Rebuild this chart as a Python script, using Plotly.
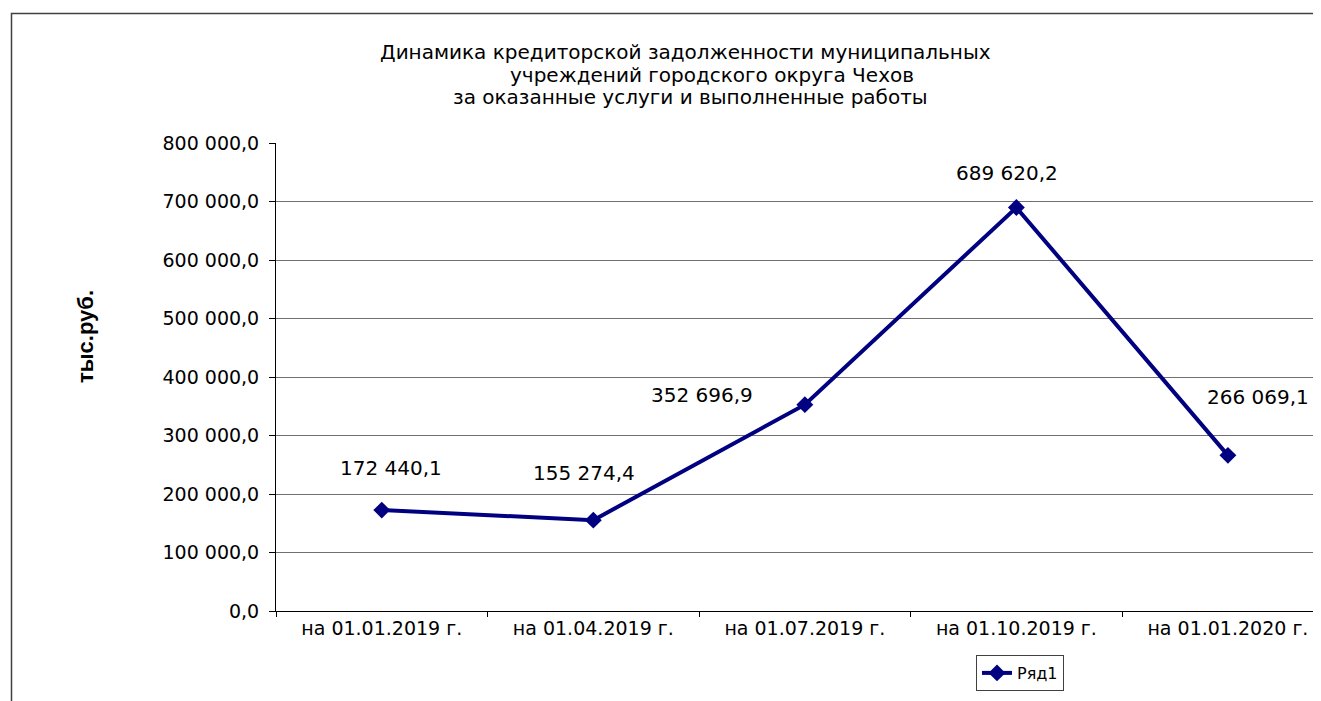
import plotly.graph_objects as go

categories = ["на 01.01.2019 г.", "на 01.04.2019 г.", "на 01.07.2019 г.", "на 01.10.2019 г.", "на 01.01.2020 г."]
values = [172440.1, 155274.4, 352696.9, 689620.2, 266069.1]
series_name = "Ряд1"
y_ticks = [0, 100000, 200000, 300000, 400000, 500000, 600000, 700000, 800000]
title_lines = [
    "Динамика кредиторской задолженности муниципальных",
    "учреждений городского округа Чехов",
    "за оказанные услуги и выполненные работы",
]
y_title = "тыс.руб."

# label placement (pixels)
label_dx = [9, -9, -103, -9, -23]
label_dy = [42, 47, 10, 35, 58]
label_anchor = ["center", "center", "center", "center", "left"]

FONT = "DejaVu Sans, Liberation Sans, Arial"


def fmt(v):
    s = f"{v:,.1f}"
    return s.replace(",", " ").replace(".", ",")


# page-pixel helpers (plot area: x 276..1321, y 143..611 in page coords)
def px(X):
    return (X - 276) / 1045


def py(Y):
    return (611 - Y) / 468


fig = go.Figure()
fig.add_trace(go.Scatter(
    x=categories, y=values, mode="lines+markers", name=series_name,
    line=dict(color="#000080", width=4),
    marker=dict(symbol="diamond", size=13, color="#000080"),
))

for i, (c, v) in enumerate(zip(categories, values)):
    fig.add_annotation(
        x=c, y=v, text=fmt(v), showarrow=False,
        xanchor=label_anchor[i], yanchor="middle",
        xshift=label_dx[i], yshift=label_dy[i],
        font=dict(family=FONT, size=20, color="black"),
    )

title_x = [685, 712, 690]
title_y = [52, 75, 97]
for t, tx, ty in zip(title_lines, title_x, title_y):
    fig.add_annotation(
        x=px(tx), y=py(ty), xref="paper", yref="paper", text=t,
        showarrow=False, xanchor="center", yanchor="middle",
        font=dict(family=FONT, size=20, color="black"),
    )

fig.add_annotation(
    x=px(85), y=py(337), xref="paper", yref="paper", text=f"<b>{y_title}</b>",
    showarrow=False, textangle=-90, xanchor="center", yanchor="middle",
    font=dict(family="Liberation Sans, Arial", size=22, color="black"),
)

fig.add_shape(type="rect", xref="paper", yref="paper",
              x0=px(11.5), x1=1.05, y0=-0.3, y1=py(13.5),
              line=dict(color="#404040", width=1.5), fillcolor="rgba(0,0,0,0)", layer="below")

fig.update_layout(
    width=1313, height=693,
    margin=dict(l=268, r=0, t=135, b=90),
    paper_bgcolor="white", plot_bgcolor="white",
    separators=", ",
    showlegend=True,
    legend=dict(x=px(976), y=py(655), xanchor="left", yanchor="top",
                bordercolor="#404040", borderwidth=1, bgcolor="white",
                font=dict(family=FONT, size=16, color="black"),
                itemwidth=30, tracegroupgap=0),
    font=dict(family=FONT, size=18, color="black"),
    xaxis=dict(
        type="category", range=[-0.5, 4.44],
        showgrid=False, showline=True, linecolor="black", linewidth=1,
        ticks="outside", tickson="boundaries", ticklen=5, tickcolor="black",
        tickfont=dict(family=FONT, size=19, color="black"),
    ),
    yaxis=dict(
        range=[0, 800000], tickvals=y_ticks, tickformat=",.1f",
        showgrid=True, gridcolor="#707070", gridwidth=1,
        showline=True, linecolor="black", linewidth=1,
        ticks="outside", ticklen=6, tickcolor="black", ticklabelstandoff=6,
        tickfont=dict(family=FONT, size=19, color="black"),
        zeroline=False,
    ),
)

fig.write_html("out.html")
